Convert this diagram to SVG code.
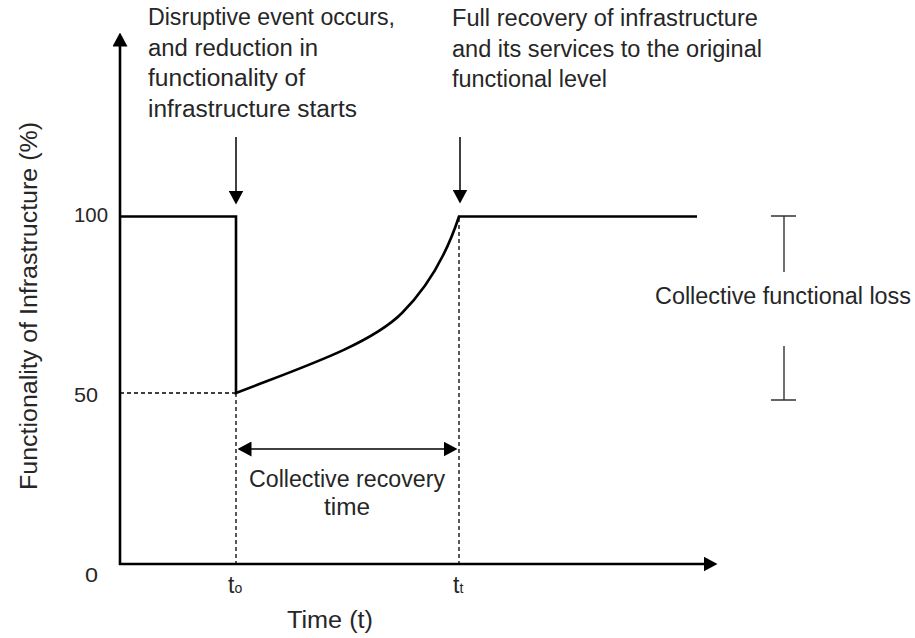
<svg xmlns="http://www.w3.org/2000/svg" width="915" height="638" viewBox="0 0 915 638">
<style>
text{font-family:"Liberation Sans",Arial,sans-serif;fill:#262626;font-size:23px}
.axis{stroke:#000;stroke-width:2.6;fill:none}
.func{stroke:#000;stroke-width:2.6;fill:none;stroke-linejoin:miter}
.thin{stroke:#000;stroke-width:1.5;fill:none}
.brk{stroke:#333;stroke-width:1.4;fill:none}
.dash{stroke:#000;stroke-width:1.3;fill:none;stroke-dasharray:4 3}
.tick{font-size:21px}
</style>
<defs>
<marker id="ah" viewBox="0 0 14 15" refX="0.5" refY="7.5" markerWidth="14" markerHeight="15" markerUnits="userSpaceOnUse" orient="auto-start-reverse">
<path d="M0,0 L14,7.5 L0,15 Z" fill="#000"/>
</marker>
</defs>
<g id="axes">
<line class="axis" x1="120" y1="565" x2="120" y2="46" marker-end="url(#ah)"/>
<line class="axis" x1="119" y1="564" x2="704" y2="564" marker-end="url(#ah)"/>
<text id="ylabel" transform="translate(37,490) rotate(-90)" font-size="25" textLength="368" lengthAdjust="spacingAndGlyphs">Functionality of Infrastructure (%)</text>
<text x="330" y="628" text-anchor="middle" font-size="25" textLength="86" lengthAdjust="spacingAndGlyphs">Time (t)</text>
<text class="tick" x="74" y="222" textLength="34" lengthAdjust="spacingAndGlyphs">100</text>
<text class="tick" x="74" y="402" textLength="24" lengthAdjust="spacingAndGlyphs">50</text>
<text class="tick" x="85" y="582" textLength="13" lengthAdjust="spacingAndGlyphs">0</text>
<text x="228" y="593">t<tspan font-size="14">o</tspan></text>
<text x="453" y="593">t<tspan font-size="14">t</tspan></text>
</g>
<g id="function">
<path class="func" d="M120,216.5 H236 V393 C300,368 370,345 402,313 C430,285 448,250 459,216.5 H697"/>
</g>
<g id="guides">
<line class="dash" x1="120" y1="393" x2="236" y2="393"/>
<line class="dash" x1="236" y1="393" x2="236" y2="563"/>
<line class="dash" x1="459" y1="218" x2="459" y2="563"/>
</g>
<g id="connectors">
<line class="thin" x1="236" y1="137" x2="236" y2="191" marker-end="url(#ah)"/>
<line class="thin" x1="460" y1="137" x2="460" y2="190" marker-end="url(#ah)"/>
<line class="thin" x1="251" y1="449" x2="444" y2="449" marker-start="url(#ah)" marker-end="url(#ah)"/>
</g>
<g id="event-label">
<text x="148" y="25" textLength="247" lengthAdjust="spacingAndGlyphs">Disruptive event occurs,</text>
<text x="148" y="55.5" textLength="170" lengthAdjust="spacingAndGlyphs">and reduction in</text>
<text x="148" y="86" textLength="157" lengthAdjust="spacingAndGlyphs">functionality of</text>
<text x="148" y="116.5" textLength="209" lengthAdjust="spacingAndGlyphs">infrastructure starts</text>
</g>
<g id="recovery-label">
<text x="452" y="26" textLength="306" lengthAdjust="spacingAndGlyphs">Full recovery of infrastructure</text>
<text x="452" y="57" textLength="310" lengthAdjust="spacingAndGlyphs">and its services to the original</text>
<text x="452" y="87" textLength="155" lengthAdjust="spacingAndGlyphs">functional level</text>
</g>
<g id="recovery-time">
<text x="347" y="487" text-anchor="middle" textLength="196" lengthAdjust="spacingAndGlyphs">Collective recovery</text>
<text x="347" y="515" text-anchor="middle" textLength="46" lengthAdjust="spacingAndGlyphs">time</text>
</g>
<g id="functional-loss">
<path class="brk" d="M771,216 H796 M784,216 V272 M784,346 V400 M771,400 H796"/>
<text x="655" y="304" textLength="256" lengthAdjust="spacingAndGlyphs">Collective functional loss</text>
</g>
</svg>
